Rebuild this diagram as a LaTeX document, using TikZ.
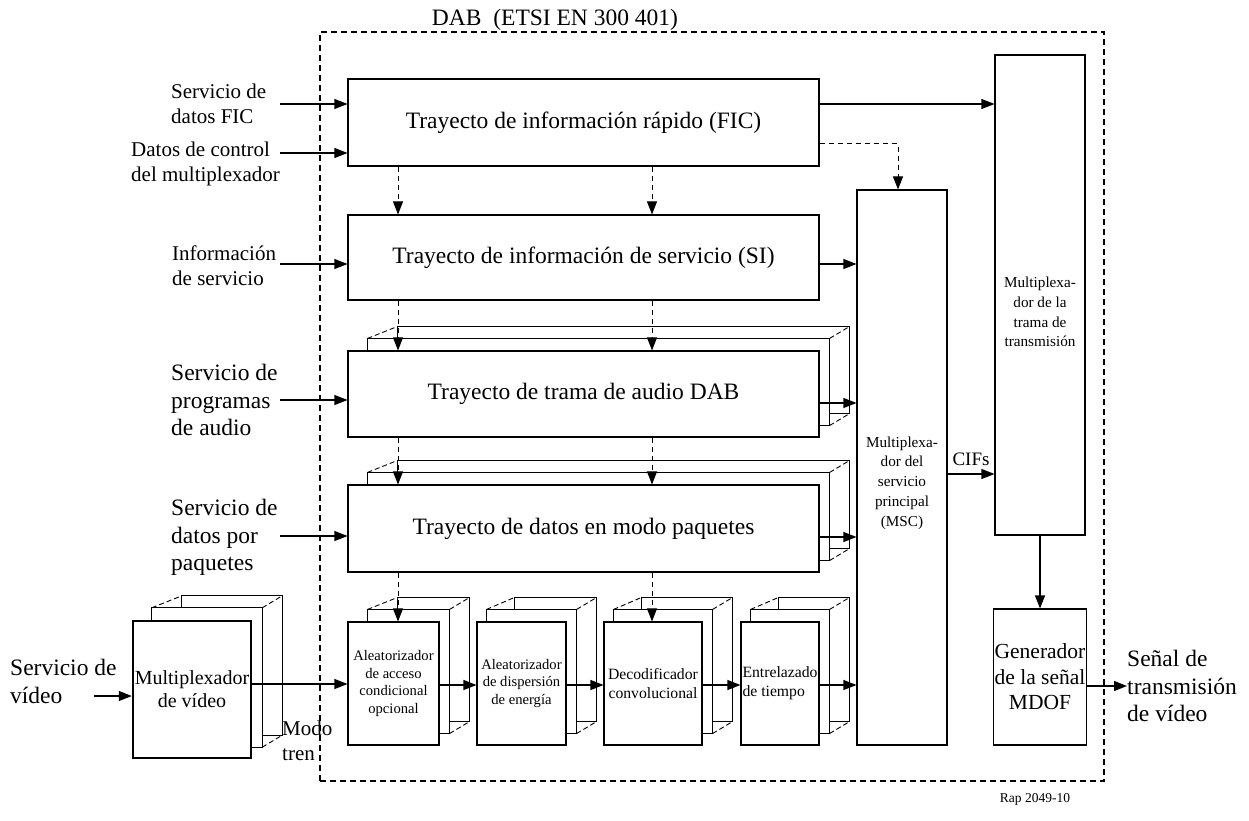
\documentclass[tikz,border=0pt]{standalone}
\usepackage{fontspec}
\setmainfont{Liberation Serif}
\usetikzlibrary{arrows.meta,calc}
\pgfdeclarelayer{background}
\pgfsetlayers{background,main}
% back layers of a stacked block: #1 node, #2 left offset of 2nd layer, #3 left offset of 3rd layer
\newcommand\backstack[3]{%
  \begin{pgfonlayer}{background}
    \draw[stk] ($(#1.north west)+(#3,-24)$) rectangle ($(#1.south east)+(30,-24)$);
    \draw[stk] ($(#1.north west)+(#2,-12)$) rectangle ($(#1.south east)+(10,-12)$);
    \draw[stkd] ($(#1.north west)+(#2,-12)$) -- ($(#1.north west)+(#3,-24)$);
    \draw[stkd] ($(#1.north east)+(10,-12)$) -- ($(#1.north east)+(30,-24)$);
    \draw[stkd] ($(#1.south east)+(10,-12)$) -- ($(#1.south east)+(30,-24)$);
  \end{pgfonlayer}}
\begin{document}
\begin{tikzpicture}[x=1pt,y=-1pt,
  box/.style={draw, fill=white, line width=1.1pt, inner sep=1pt, align=center},
  stk/.style={draw, fill=white, line width=1.1pt},
  stkd/.style={line width=0.9pt, dash pattern=on 5pt off 3pt},
  frame/.style={draw, line width=1.6pt, dash pattern=on 6pt off 4pt, inner sep=0pt},
  arr/.style={line width=1.1pt, -{Triangle[length=13pt,width=10pt]}},
  darr/.style={line width=1pt, dash pattern=on 5pt off 4pt, -{Triangle[length=13pt,width=10pt]}},
  fs/.style={font=\fontsize{21}{25}\selectfont},
  fl/.style={font=\fontsize{23.5}{27.5}\selectfont},
  fbig/.style={font=\fontsize{23.5}{28}\selectfont},
  fsm/.style={font=\fontsize{14.6}{17.5}\selectfont},
  fmd/.style={font=\fontsize{15.7}{19}\selectfont},
  fmsc/.style={font=\fontsize{15.2}{19.7}\selectfont},
  lbl/.style={inner sep=0pt, align=left, anchor=north west}
]
\useasboundingbox (0,0) rectangle (1249,821);

% DAB frame
\node[frame, minimum width=784pt, minimum height=749pt] (dab) at (712,406.5) {};
\node[font=\fontsize{23.5}{27}\selectfont, anchor=base, inner sep=0pt] (dablbl) at (555,26) {DAB\ \ (ETSI EN 300 401)};

% main blocks
\node[box, fbig, minimum width=471pt, minimum height=87pt] (fic) at (583.5,122.5) {Trayecto de información rápido (FIC)};
\node[box, fbig, minimum width=471pt, minimum height=85pt] (si) at (583.5,257.5) {Trayecto de información de servicio (SI)};
\node[box, fbig, minimum width=471pt, minimum height=86pt] (aud) at (583.5,394) {Trayecto de trama de audio DAB};
\node[box, fbig, minimum width=471pt, minimum height=87pt] (pkt) at (583.5,528.5) {Trayecto de datos en modo paquetes};
\node[box, minimum width=90pt, minimum height=555pt] (msc) at (902,467.5) {};
\node[fmsc, align=center, inner sep=0pt] (msct) at (902,483) {Multiplexa-\\dor del\\servicio\\principal\\(MSC)};
\node[box, minimum width=90pt, minimum height=480pt] (tram) at (1040,295) {};
\node[fmsc, align=center, inner sep=0pt] (tramt) at (1040,312) {Multiplexa-\\dor de la\\trama de\\transmisión};
\node[box, font=\fontsize{21.5}{25.5}\selectfont, minimum width=90pt, minimum height=136pt] (mdof) at (1040,677) {Generador\\de la señal\\MDOF};

\node[box, line width=2.4pt, font=\fontsize{20}{23}\selectfont, minimum width=118pt, minimum height=137pt] (vmux) at (192,689.5) {Multiplexador\\de vídeo};
\node[box, fsm, minimum width=91pt, minimum height=123pt] (ca) at (393.5,683.5) {Aleatorizador\\de acceso\\condicional\\opcional};
\node[box, fsm, minimum width=89pt, minimum height=123pt] (ed) at (521.5,683.5) {Aleatorizador\\de dispersión\\de energía};
\node[box, fmd, minimum width=98pt, minimum height=123pt] (dec) at (653,683.5) {Decodificador\\convolucional};
\node[box, fmd, align=left, minimum width=78pt, minimum height=123pt] (ti) at (780,683.5) {Entrelazado\\de tiempo};

% stacked layers
\backstack{aud}{20}{50}
\backstack{pkt}{20}{50}
\backstack{vmux}{20}{50}
\backstack{ca}{20}{50}
\backstack{ed}{10}{38}
\backstack{dec}{10}{38}
\backstack{ti}{10}{38}

% input labels
\node[lbl, fs] (l1) at (171,84) {Servicio de\\datos FIC};
\node[lbl, fs] (l2) at (131,142) {Datos de control\\del multiplexador};
\node[lbl, fs] (l3) at (172,246) {Información\\de servicio};
\node[lbl, fl] (l4) at (171,364) {Servicio de\\programas\\de audio};
\node[lbl, fl] (l5) at (171,499) {Servicio de\\datos por\\paquetes};
\node[lbl, fl] (l6) at (10,659) {Servicio de\\vídeo};
\node[lbl, fs] (l7) at (282,721) {Modo\\tren};
\node[lbl, fl] (outl) at (1127,650) {Señal de\\transmisión\\de vídeo};
\node[font=\fontsize{13.5}{16}\selectfont, anchor=base, inner sep=0pt] (rap) at (1035,802) {Rap 2049-10};

% input arrows
\coordinate (i1) at (280,104);
\coordinate (i2) at (280,153);
\coordinate (i3) at (280,264);
\coordinate (i4) at (280,400);
\coordinate (i5) at (280,536);
\coordinate (i6) at (94,696);
\draw[arr] (i1) -- (i1 -| fic.west);
\draw[arr] (i2) -- (i2 -| fic.west);
\draw[arr] (i3) -- (i3 -| si.west);
\draw[arr] (i4) -- (i4 -| aud.west);
\draw[arr] (i5) -- (i5 -| pkt.west);
\draw[arr] (i6) -- (i6 -| vmux.west);

% dashed control arrows
\coordinate (cA) at (398,0);
\coordinate (cB) at (652,0);
\draw[darr] (fic.south -| cA) -- (si.north -| cA);
\draw[darr] (fic.south -| cB) -- (si.north -| cB);
\draw[darr] (si.south -| cA) -- (aud.north -| cA);
\draw[darr] (si.south -| cB) -- (aud.north -| cB);
\draw[darr] (aud.south -| cA) -- (pkt.north -| cA);
\draw[darr] (aud.south -| cB) -- (pkt.north -| cB);
\draw[darr] (pkt.south -| cA) -- (ca.north -| cA);
\draw[darr] (pkt.south -| cB) -- (dec.north -| cB);
\coordinate (k) at (898,144);
\draw[darr] (fic.east |- k) -| (msc.north -| k);

% outputs to multiplexers
\coordinate (yF) at (0,104);
\coordinate (yS) at (0,264);
\coordinate (yA) at (0,403);
\coordinate (yP) at (0,537);
\coordinate (yT) at (0,685);
\coordinate (yC) at (0,474);
\coordinate (yV) at (0,684);
\coordinate (yO) at (0,686);
\draw[arr] (fic.east |- yF) -- (tram.west |- yF);
\draw[arr] (si.east |- yS) -- (msc.west |- yS);
\draw[arr] (aud.east |- yA) -- (msc.west |- yA);
\draw[arr] (pkt.east |- yP) -- (msc.west |- yP);
\draw[arr] (ti.east |- yT) -- (msc.west |- yT);
\draw[arr] (msc.east |- yC) -- (tram.west |- yC) node[midway, anchor=base, yshift=9pt, font=\fontsize{19}{22}\selectfont, inner sep=0pt] {CIFs};
\draw[arr] (tram.south) -- (mdof.north);
\draw[arr] (mdof.east |- yO) -- (outl.west |- yO);

% video chain
\draw[arr] (vmux.east |- yV) -- (ca.west |- yV);
\draw[arr] (ca.east |- yT) -- (ed.west |- yT);
\draw[arr] (ed.east |- yT) -- (dec.west |- yT);
\draw[arr] (dec.east |- yT) -- (ti.west |- yT);
\end{tikzpicture}
\end{document}
